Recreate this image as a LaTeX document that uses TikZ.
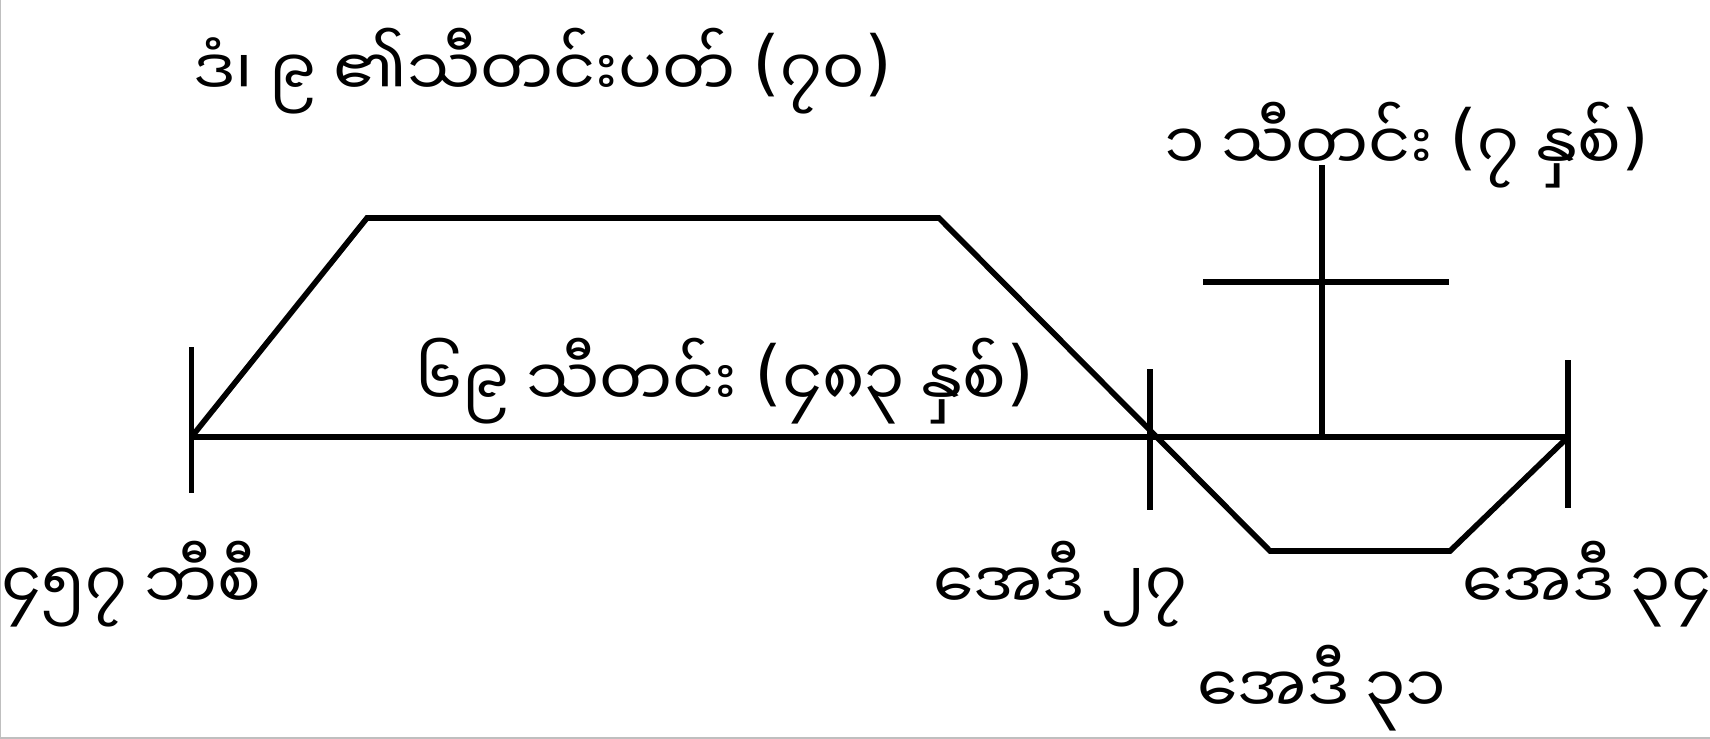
\documentclass[tikz,border=0pt]{standalone}
\usepackage{fontspec}
\newfontfamily\mmfont[Script=Myanmar]{Noto Sans Myanmar UI}
\newfontfamily\parfont{DejaVu Sans}[Scale=1.1]
\newcommand{\lp}{\raisebox{2.5pt}{\parfont(}}
\newcommand{\rp}{\raisebox{2.5pt}{\parfont)}}
\usetikzlibrary{positioning}
\tikzstyle{mmtext} = [inner sep=0pt, anchor=base, font=\mmfont\fontsize{18.5}{22}\selectfont]
\tikzstyle{timeline} = [draw, line width=1.6pt, color=black]
\tikzstyle{tickmark} = [draw, line width=1.6pt, color=black]
\tikzstyle{edgeline} = [draw, line width=0.8pt, color=black!25]

\begin{document}
\begin{tikzpicture}
\useasboundingbox (0,0) rectangle (17.10,7.38);
\path [edgeline] (0,7.38) -- (0,0) -- (17.10,0);

% Points on the time line
\coordinate (b1) at (1.915,3.01);
\path (b1)+(9.585,0.0) coordinate (b2);
\path (b1)+(13.765,0.0) coordinate (b3);
\path (b1)+(11.305,0.0) coordinate (b4);
\path [timeline] (b1) -- (b3);

% Ticks
\path [tickmark] (b1)+(0.0,0.90) -- +(0.0,-0.56);
\path [tickmark] (b2)+(0.0,0.68) -- +(0.0,-0.73);
\path [tickmark] (b3)+(0.0,0.77) -- +(0.0,-0.71);

% Upper and lower trapezoids
\path (b1)+(1.755,2.19) coordinate (u1);
\path (u1)+(5.72,0.0) coordinate (u2);
\path (b2)+(1.20,-1.14) coordinate (d1);
\path (d1)+(1.80,0.0) coordinate (d2);
\path [timeline] (b1) -- (u1) -- (u2) -- (d1) -- (d2) -- (b3);

% Cross
\path (b4)+(0.0,2.72) coordinate (x1);
\path [timeline] (b4) -- (x1);
\path (b4)+(-1.19,1.55) coordinate (x2);
\path (x2)+(2.46,0.0) coordinate (x3);
\path [timeline] (x2) -- (x3);

% Labels
\node (t1) [mmtext] at (5.43,6.42) {ဒံ၊ ၉ ၏သီတင်းပတ် \lp၇၀\rp};
\node (t2) [mmtext] at (14.07,5.68) {၁ သီတင်း \lp၇ နှစ်\rp};
\node (t3) [mmtext] at (7.25,3.32) {၆၉ သီတင်း \lp၄၈၃ နှစ်\rp};
\node (t4) [mmtext] at (1.31,1.29) {၄၅၇ ဘီစီ};
\node (t5) [mmtext] at (10.60,1.29) {အေဒီ ၂၇};
\node (t6) [mmtext] at (15.87,1.29) {အေဒီ ၃၄};
\node (t7) [mmtext] at (13.22,0.25) {အေဒီ ၃၁};
\end{tikzpicture}
\end{document}
